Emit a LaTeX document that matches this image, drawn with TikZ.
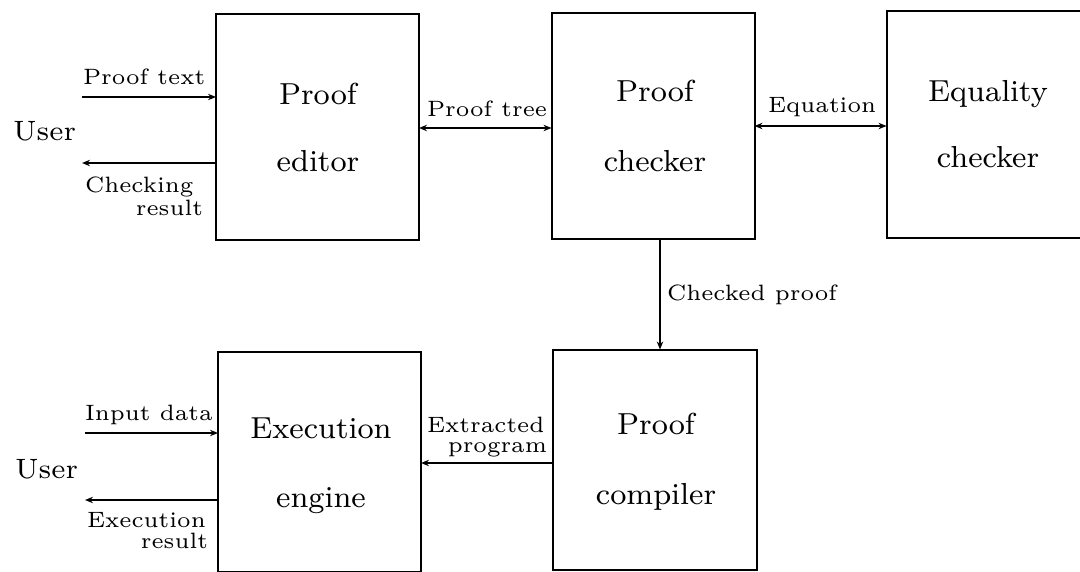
\documentclass[tikz,border=0pt]{standalone}
\usepackage{graphicx}
\usetikzlibrary{arrows.meta}

% Block captions and flow labels use small optical sizes, magnified
\newcommand{\blocktext}[1]{\scalebox{1.9}{\fontsize{8}{9}\selectfont #1}}
\newcommand{\usertext}[1]{\scalebox{2.0}{\fontsize{7}{8}\selectfont #1}}
\newcommand{\flowtext}[1]{\scalebox{1.85}{\fontsize{6}{7}\selectfont #1}}

\tikzset{
  blk/.style={draw=black, line width=1pt, rectangle, inner sep=0pt, outer sep=0pt,
              minimum width=101.5pt},
  toprow/.style={minimum height=113pt},
  botrow/.style={minimum height=110pt},
  txt/.style={inner sep=0pt, outer sep=0pt},
  flow/.style={draw=black, line width=0.75pt,
               -{Stealth[length=4pt,width=3.2pt]}},
  bothflow/.style={draw=black, line width=0.75pt,
               {Stealth[length=4pt,width=3.2pt]}-{Stealth[length=4pt,width=3.2pt]}},
}

\begin{document}
\begin{tikzpicture}[x=0.5pt, y=-0.5pt]
\useasboundingbox (0,0) rectangle (1080,572);
\clip (0,0) rectangle (1080,572);

% ---- blocks ----
\node[blk, toprow] (ed) at (317.5,127) {};
\node[blk, toprow] (ch) at (653,126) {};
\node[blk, toprow] (eq) at (988,124.5) {};
\node[blk, botrow] (ex) at (319.5,461.5) {};
\node[blk, botrow, minimum width=102pt] (co) at (655,459.5) {};

% ---- block captions ----
\node[txt, anchor=base] (edA) at (318,105) {\blocktext{Proof}};
\node[txt, anchor=base] (edB) at (318,172) {\blocktext{editor}};
\node[txt, anchor=base] (chA) at (655,102) {\blocktext{Proof}};
\node[txt, anchor=base] (chB) at (655,172) {\blocktext{checker}};
\node[txt, anchor=base] (eqA) at (988,102) {\blocktext{Equality}};
\node[txt, anchor=base] (eqB) at (988,168) {\blocktext{checker}};
\node[txt, anchor=base] (exA) at (321,438) {\blocktext{Execution}};
\node[txt, anchor=base] (exB) at (321,507) {\blocktext{engine}};
\node[txt, anchor=base] (coA) at (656,434) {\blocktext{Proof}};
\node[txt, anchor=base] (coB) at (656,504) {\blocktext{compiler}};

% ---- users ----
\node[txt, anchor=base west] (user1) at (13,141) {\usertext{User}};
\node[txt, anchor=base west] (user2) at (15,478) {\usertext{User}};

% ---- free ends on the user side ----
\coordinate (pin)  at (82,97);
\coordinate (pout) at (82,163);
\coordinate (din)  at (85,433);
\coordinate (dout) at (85,500);

% ---- connectors ----
\draw[flow] (pin) -- (ed.west |- pin);
\draw[flow] (ed.west |- pout) -- (pout);
\draw[bothflow] (ed.east |- 0,128) -- (ch.west |- 0,128);
\draw[bothflow] (ch.east |- 0,126) -- (eq.west |- 0,126);
\draw[flow] (660,0 |- ch.south) -- (660,0 |- co.north);
\draw[flow] (co.west |- 0,463) -- (ex.east |- 0,463);
\draw[flow] (din) -- (ex.west |- din);
\draw[flow] (ex.west |- dout) -- (dout);

% ---- connector labels ----
\node[txt, anchor=base west] (lPT) at (83,85) {\flowtext{Proof text}};
\node[txt, anchor=base west] (lCR1) at (85,193) {\flowtext{Checking}};
\node[txt, anchor=base east] (lCR2) at (203,215) {\flowtext{result}};
\node[txt, anchor=base west] (lTree) at (427,117) {\flowtext{Proof tree}};
\node[txt, anchor=base west] (lEq) at (768,113) {\flowtext{Equation}};
\node[txt, anchor=base west] (lChk) at (667,300) {\flowtext{Checked proof}};
\node[txt, anchor=base west] (lEP1) at (427,432) {\flowtext{Extracted}};
\node[txt, anchor=base east] (lEP2) at (547,452) {\flowtext{program}};
\node[txt, anchor=base west] (lIn) at (85,420) {\flowtext{Input data}};
\node[txt, anchor=base west] (lER1) at (87,527) {\flowtext{Execution}};
\node[txt, anchor=base east] (lER2) at (208,548) {\flowtext{result}};
\end{tikzpicture}
\end{document}
